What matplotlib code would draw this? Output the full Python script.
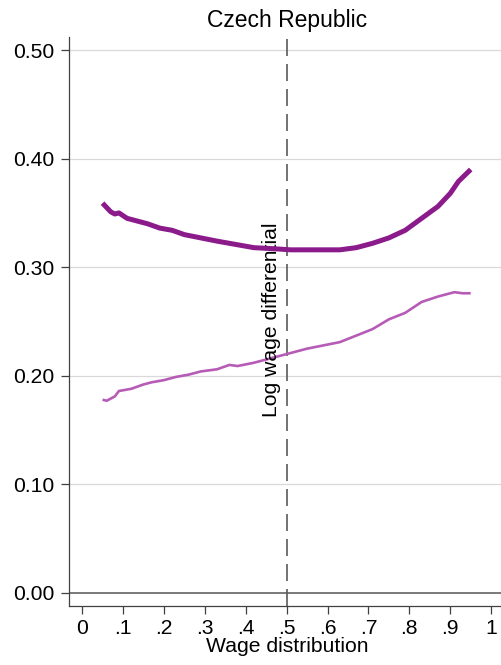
import matplotlib
matplotlib.use("Agg")
import matplotlib.pyplot as plt

plt.rcParams["font.family"] = ["Liberation Sans", "DejaVu Sans"]

# Quantile positions and log wage differentials
q_upper = [0.05, 0.07, 0.08, 0.09, 0.11, 0.14, 0.16, 0.19, 0.22, 0.25, 0.29, 0.33,
           0.36, 0.39, 0.42, 0.47, 0.51, 0.55, 0.59, 0.63, 0.67, 0.71, 0.75, 0.79,
           0.83, 0.87, 0.90, 0.92, 0.95]
gap_upper = [0.359, 0.351, 0.349, 0.350, 0.345, 0.342, 0.340, 0.336, 0.334, 0.330,
             0.327, 0.324, 0.322, 0.320, 0.318, 0.317, 0.316, 0.316, 0.316, 0.316,
             0.318, 0.322, 0.327, 0.334, 0.345, 0.356, 0.368, 0.379, 0.390]

q_lower = [0.05, 0.06, 0.08, 0.09, 0.12, 0.15, 0.17, 0.20, 0.23, 0.26, 0.29, 0.33,
           0.36, 0.38, 0.42, 0.45, 0.49, 0.51, 0.55, 0.59, 0.63, 0.67, 0.71, 0.75,
           0.79, 0.83, 0.87, 0.89, 0.91, 0.93, 0.95]
gap_lower = [0.178, 0.177, 0.181, 0.186, 0.188, 0.192, 0.194, 0.196, 0.199, 0.201,
             0.204, 0.206, 0.210, 0.209, 0.212, 0.215, 0.219, 0.221, 0.225, 0.228,
             0.231, 0.237, 0.243, 0.252, 0.258, 0.268, 0.273, 0.275, 0.277, 0.276,
             0.276]

x_ticks = [0, 0.1, 0.2, 0.3, 0.4, 0.5, 0.6, 0.7, 0.8, 0.9, 1.0]
x_tick_labels = ["0", ".1", ".2", ".3", ".4", ".5", ".6", ".7", ".8", ".9", "1"]
y_ticks = [0.0, 0.1, 0.2, 0.3, 0.4, 0.5]
y_tick_labels = ["0.00", "0.10", "0.20", "0.30", "0.40", "0.50"]

title = "Czech Republic"
x_label = "Wage distribution"
median_note = "Log wage differential"

fig = plt.figure(figsize=(5.01, 6.65), dpi=100)
ax = fig.add_axes([69 / 501, 1 - 606 / 665, 1 - 69 / 501, (606 - 37) / 665])

fs = 15.2
ax.set_xlim(-0.032, 1.024)
ax.set_ylim(-0.012, 0.512)

# Horizontal grid, darker zero line
for yv in y_ticks[1:]:
    ax.axhline(yv, color="#d9d9d9", lw=0.9, zorder=0)
ax.axhline(0.0, color="#555555", lw=1.1, zorder=1)

ax.axvline(0.5, color="#5a5a5a", lw=1.2, linestyle=(0, (10.2, 4.8)), zorder=1)

ax.plot(q_lower, gap_lower, color="#b65cb6", lw=1.9, solid_capstyle="butt", zorder=3)
ax.plot(q_upper, gap_upper, color="#8b1a8b", lw=3.6, solid_capstyle="butt", zorder=4)

ax.text(0.486, 0.252, median_note, rotation=90, ha="right", va="center",
        fontsize=fs, color="black")

ax.set_xticks(x_ticks)
ax.set_xticklabels(x_tick_labels, fontsize=fs)
ax.set_yticks(y_ticks)
ax.set_yticklabels(y_tick_labels, fontsize=fs)
ax.tick_params(axis="both", direction="out", length=5.5, width=0.9,
               color="#404040", pad=5)
ax.tick_params(axis="x", pad=3.5)

for side in ("top", "right"):
    ax.spines[side].set_visible(False)
for side in ("left", "bottom"):
    ax.spines[side].set_color("#404040")
    ax.spines[side].set_linewidth(0.9)

# Axis title and chart title placed in figure coordinates
fig.text(287 / 501, 1 - 652 / 665, x_label, ha="center", va="baseline", fontsize=fs)
fig.text(287 / 501, 1 - 20 / 665, title, ha="center", va="center", fontsize=16.5)

fig.savefig("out.png", dpi=100)
